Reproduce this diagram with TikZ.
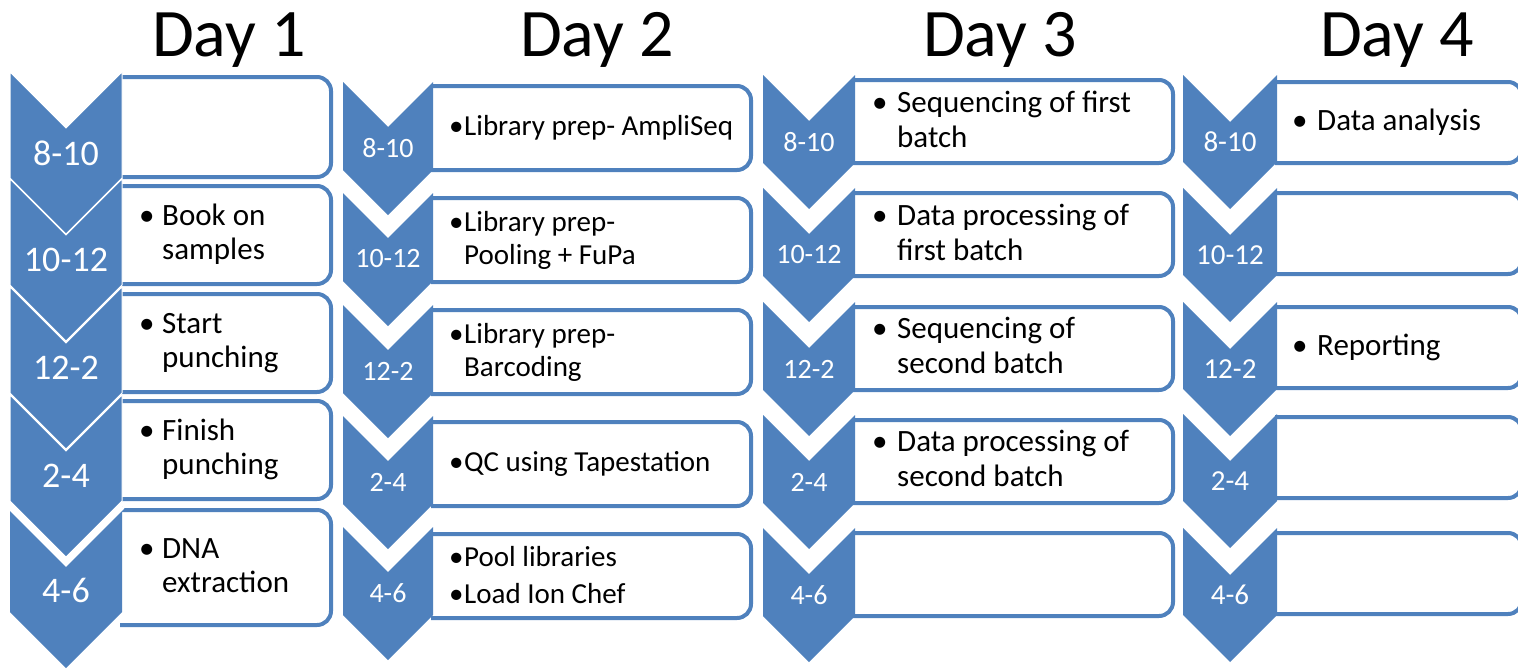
\documentclass[tikz,border=0pt]{standalone}
\usepackage{fontspec}
\setmainfont{Carlito}
\usetikzlibrary{positioning}
\definecolor{chevblue}{HTML}{4F81BD}
\tikzset{chev/.style={fill=chevblue}}
\tikzset{slot/.style={draw=chevblue, line width=4pt, rounded corners=14pt, fill=white}}
\tikzset{hour/.style={text=white, inner sep=0pt}}
\tikzset{task/.style={anchor=west, inner sep=0pt}}
\tikzset{dayhead/.style={anchor=base, inner sep=0pt, font=\fontsize{68}{74}\selectfont}}
\newcommand{\bitem}[2]{\begin{tabular}{@{}l@{}l@{}}\makebox[#1][l]{\textbullet} & #2\end{tabular}}

\begin{document}
\begin{tikzpicture}[x=1pt, y=-1pt]
\path[use as bounding box] (0,0) rectangle (1518,670);
\clip (0,0) rectangle (1518,670);

% day titles
\node[dayhead] (day1) at (229,56) {Day 1};
\node[dayhead] (day2) at (597,56) {Day 2};
\node[dayhead] (day3) at (1000,56) {Day 3};
\node[dayhead] (day4) at (1397,56) {Day 4};

% day 1
\foreach \a/\b in {77/177, 186/284, 294/392, 401/499, 510/625}
  \draw[slot] (120,\a) -- (331,\a) -- (331,\b) -- (120,\b);
\foreach \t/\h [count=\i] in {72/8-10, 179/10-12, 287/12-2, 395/2-4}{
  \filldraw[chev, draw=white, line width=1pt] (10,\t) -- (66,\t+56) -- (122,\t) -- (122,\t+106) -- (66,\t+162) -- (10,\t+106) -- cycle;
  \node[hour, font=\fontsize{36}{40}\selectfont] (d1h\i) at (66,\t+81) {\h};
}
\fill[chev] (10,506) -- (66,562) -- (122,506) -- (122,612) -- (66,668) -- (10,612) -- cycle;
\draw[white, line width=7pt] (10,506) -- (66,562) -- (122,506);
\node[hour, font=\fontsize{36}{40}\selectfont] (d1h5) at (66,590) {4-6};

\node[task, font=\fontsize{31}{34}\selectfont] (d1t2) at (139,236) {\bitem{23pt}{Book on\\ & samples}};
\node[task, font=\fontsize{31}{34}\selectfont] (d1t3) at (139,344) {\bitem{23pt}{Start\\ & punching}};
\node[task, font=\fontsize{31}{34}\selectfont] (d1t4) at (139,451) {\bitem{23pt}{Finish\\ & punching}};
\node[task, font=\fontsize{31}{34}\selectfont] (d1t5) at (139,569) {\bitem{23pt}{DNA\\ & extraction}};

% day 2
\foreach \a in {86,198,310,422,534}
  \draw[slot] (431,\a) -- (751,\a) -- (751,\a+84) -- (431,\a+84);
\foreach \t/\h [count=\i] in {82/8-10, 193/10-12, 305/12-2, 416/2-4, 527/4-6}{
  \fill[chev] (343,\t) -- (388,\t+45) -- (433,\t) -- (433,\t+88) -- (388,\t+133) -- (343,\t+88) -- cycle;
  \node[hour, font=\fontsize{28}{32}\selectfont] (d2h\i) at (388,\t+66) {\h};
}

\node[task, font=\fontsize{29}{33}\selectfont] (d2t1) at (449,129) {\bitem{15pt}{Library prep- AmpliSeq}};
\node[task, font=\fontsize{29}{33}\selectfont] (d2t2) at (449,241) {\bitem{15pt}{Library prep-\\ & Pooling + FuPa}};
\node[task, font=\fontsize{29}{33}\selectfont] (d2t3) at (449,353) {\bitem{15pt}{Library prep-\\ & Barcoding}};
\node[task, font=\fontsize{29}{33}\selectfont] (d2t4) at (449,465) {\bitem{15pt}{QC using Tapestation}};
\node[task, font=\fontsize{29}{33}\selectfont] (d2t5) at (449,578) {\bitem{15pt}{Pool libraries\\[4pt] \makebox[15pt][l]{\textbullet} & Load Ion Chef}};

% day 3
\foreach \a in {80,193,307,420,533}
  \draw[slot] (853,\a) -- (1173,\a) -- (1173,\a+83) -- (853,\a+83);
\foreach \t/\h [count=\i] in {75/8-10, 188/10-12, 302/12-2, 415/2-4, 528/4-6}{
  \fill[chev] (763,\t) -- (809,\t+46) -- (855,\t) -- (855,\t+88) -- (809,\t+134) -- (763,\t+88) -- cycle;
  \node[hour, font=\fontsize{28}{32}\selectfont] (d3h\i) at (809,\t+67) {\h};
}

\node[task, font=\fontsize{31}{35}\selectfont] (d3t1) at (872,123) {\bitem{25pt}{Sequencing of first\\ & batch}};
\node[task, font=\fontsize{31}{35}\selectfont] (d3t2) at (872,236) {\bitem{25pt}{Data processing of\\ & first batch}};
\node[task, font=\fontsize{31}{35}\selectfont] (d3t3) at (872,349) {\bitem{25pt}{Sequencing of\\ & second batch}};
\node[task, font=\fontsize{31}{35}\selectfont] (d3t4) at (872,462) {\bitem{25pt}{Data processing of\\ & second batch}};

% day 4
\foreach \a in {82,193,307,417,533}
  \draw[slot] (1275,\a) -- (1522,\a) -- (1522,\a+81) -- (1275,\a+81);
\foreach \t/\h [count=\i] in {75/8-10, 188/10-12, 302/12-2, 414/2-4, 528/4-6}{
  \fill[chev] (1183,\t) -- (1230,\t+47) -- (1277,\t) -- (1277,\t+87) -- (1230,\t+134) -- (1183,\t+87) -- cycle;
  \node[hour, font=\fontsize{29}{33}\selectfont] (d4h\i) at (1230,\t+67) {\h};
}

\node[task, font=\fontsize{31}{35}\selectfont] (d4t1) at (1292,123) {\bitem{25pt}{Data analysis}};
\node[task, font=\fontsize{31}{35}\selectfont] (d4t3) at (1292,348) {\bitem{25pt}{Reporting}};

\end{tikzpicture}
\end{document}
